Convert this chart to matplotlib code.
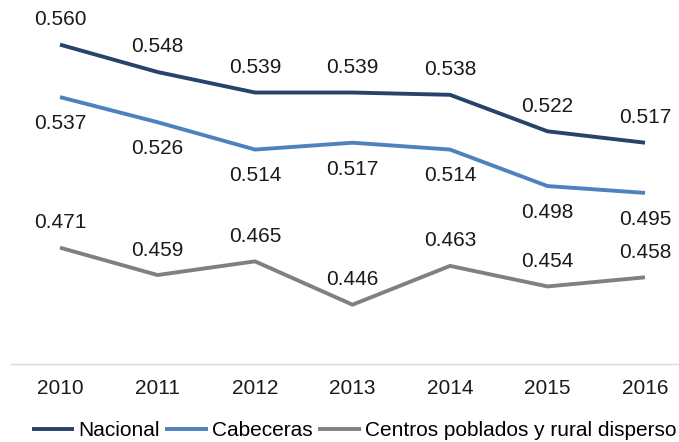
import matplotlib
matplotlib.use("Agg")
import matplotlib.pyplot as plt

plt.rcParams['font.family'] = ['Liberation Sans', 'DejaVu Sans']

years = ["2010", "2011", "2012", "2013", "2014", "2015", "2016"]
nacional = [0.560, 0.548, 0.539, 0.539, 0.538, 0.522, 0.517]
cabeceras = [0.537, 0.526, 0.514, 0.517, 0.514, 0.498, 0.495]
rural = [0.471, 0.459, 0.465, 0.446, 0.463, 0.454, 0.458]
series_names = ["Nacional", "Cabeceras", "Centros poblados y rural disperso"]

colors = ["#27436A", "#4F81BD", "#808080"]
W, H = 679, 442
fig = plt.figure(figsize=(W / 100, H / 100), dpi=100)
left = 11.25 / W
width = (693.75 - 11.25) / W
bottom = (H - 364) / H
height = 365 / H
ax = fig.add_axes([left, bottom, width, height])

x = list(range(len(years)))
lw = 2.8
ax.plot(x, nacional, color=colors[0], lw=lw, label=series_names[0], solid_capstyle='butt')
ax.plot(x, cabeceras, color=colors[1], lw=lw, label=series_names[1], solid_capstyle='butt')
ax.plot(x, rural, color=colors[2], lw=lw, label=series_names[2], solid_capstyle='butt')

fs = 15
for xi, v in zip(x, nacional):
    ax.annotate(f"{v:.3f}", (xi, v), xytext=(0, 18), textcoords='offset points',
                ha='center', va='center', fontsize=fs, color='#1a1a1a')
for xi, v in zip(x, cabeceras):
    ax.annotate(f"{v:.3f}", (xi, v), xytext=(0, -19), textcoords='offset points',
                ha='center', va='center', fontsize=fs, color='#1a1a1a')
for xi, v in zip(x, rural):
    ax.annotate(f"{v:.3f}", (xi, v), xytext=(0, 18), textcoords='offset points',
                ha='center', va='center', fontsize=fs, color='#1a1a1a')

ax.set_xlim(-0.5, len(years) - 0.5)
ax.set_ylim(0.42, 0.58)
ax.set_xticks(x)
ax.set_xticklabels(years, fontsize=fs, color='#1a1a1a')
ax.tick_params(axis='x', length=0, pad=10.5)
ax.set_yticks([])
for s in ['top', 'right', 'left']:
    ax.spines[s].set_visible(False)
ax.spines['bottom'].set_color('#D9D9D9')
ax.spines['bottom'].set_linewidth(1.0)
ax.patch.set_alpha(0)

fig.legend(loc='center', bbox_to_anchor=(354 / W, 1 - 431 / H), ncol=3, frameon=False,
           fontsize=fs, handlelength=2.05, handletextpad=0.2, columnspacing=0.25,
           borderaxespad=0, borderpad=0)

fig.savefig("out.png", dpi=100)
